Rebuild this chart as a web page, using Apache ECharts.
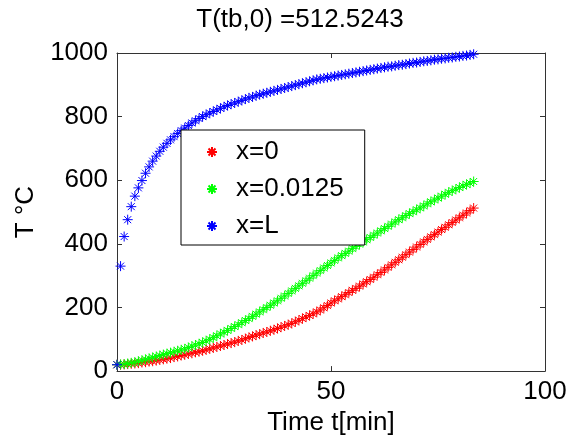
<!DOCTYPE html>
<html>
<head>
<meta charset="utf-8">
<script src="https://cdn.jsdelivr.net/npm/echarts@6/dist/echarts.min.js"></script>
<style>
  html, body { margin: 0; padding: 0; background: #fff; }
  #chart { width: 572px; height: 441px; }
</style>
</head>
<body>
<div id="chart"></div>
<script>
// time in minutes (50 s steps)
const timeMin = [
  0, 0.83, 1.67, 2.5, 3.33, 4.17, 5, 5.83, 6.67, 7.5, 8.33, 9.17,
  10, 10.83, 11.67, 12.5, 13.33, 14.17, 15, 15.83, 16.67, 17.5, 18.33, 19.17,
  20, 20.83, 21.67, 22.5, 23.33, 24.17, 25, 25.83, 26.67, 27.5, 28.33, 29.17,
  30, 30.83, 31.67, 32.5, 33.33, 34.17, 35, 35.83, 36.67, 37.5, 38.33, 39.17,
  40, 40.83, 41.67, 42.5, 43.33, 44.17, 45, 45.83, 46.67, 47.5, 48.33, 49.17,
  50, 50.83, 51.67, 52.5, 53.33, 54.17, 55, 55.83, 56.67, 57.5, 58.33, 59.17,
  60, 60.83, 61.67, 62.5, 63.33, 64.17, 65, 65.83, 66.67, 67.5, 68.33, 69.17,
  70, 70.83, 71.67, 72.5, 73.33, 74.17, 75, 75.83, 76.67, 77.5, 78.33, 79.17,
  80, 80.83, 81.67, 82.5, 83.33
];

// x=0
const tempX0 = [
  20, 20, 21, 22, 23, 24, 25, 27, 28, 30,
  31, 33, 35, 37, 39, 41, 44, 46, 49, 51,
  54, 56, 59, 61, 64, 67, 70, 73, 76, 79,
  82, 85, 88, 91, 95, 98, 102, 106, 109, 113,
  116, 120, 123, 127, 130, 134, 138, 142, 146, 150,
  155, 160, 165, 170, 175, 180, 186, 192, 199, 206,
  214, 221, 227, 234, 240, 247, 254, 260, 267, 274,
  281, 288, 295, 303, 310, 318, 326, 334, 342, 350,
  358, 366, 374, 382, 390, 398, 406, 414, 422, 429,
  437, 445, 452, 460, 467, 475, 482, 490, 497, 505,
  512.5
];

// x=0.0125
const tempXmid = [
  20, 21, 22, 24, 26, 28, 31, 34, 37, 40,
  43, 46, 49, 52, 55, 58, 61, 64, 67, 70,
  74, 78, 82, 86, 90, 95, 100, 105, 111, 117,
  122, 128, 134, 140, 146, 152, 159, 165, 172, 179,
  186, 193, 200, 207, 214, 221, 229, 236, 244, 252,
  260, 268, 276, 284, 292, 300, 308, 316, 324, 332,
  340, 348, 356, 363, 370, 377, 385, 392, 399, 406,
  413, 420, 427, 434, 441, 448, 455, 462, 469, 476,
  482, 489, 495, 501, 507, 513, 519, 526, 532, 538,
  544, 550, 556, 562, 567, 572, 577, 582, 587, 591,
  596
];

// x=L
const tempXL = [
  20, 330, 423, 476, 517, 550, 576, 599, 622, 642,
  660, 676, 691, 704, 716, 727, 737, 747, 756, 764,
  772, 780, 787, 794, 800, 806, 811, 816, 821, 826,
  831, 835, 839, 843, 847, 851, 855, 859, 862, 866,
  869, 872, 875, 878, 881, 884, 887, 890, 893, 896,
  899, 902, 905, 908, 911, 914, 917, 919, 921, 923,
  925, 927, 929, 931, 933, 935, 937, 939, 941, 943,
  945, 947, 949, 951, 953, 955, 957, 958, 960, 962,
  963, 965, 967, 969, 970, 972, 974, 975, 977, 979,
  980, 982, 983, 985, 986, 988, 989, 991, 992, 994,
  996
];

const seriesNames = ["x=0", "x=0.0125", "x=L"];
const seriesColors = ["#ff0000", "#00ff00", "#0000ff"];
const seriesValues = [tempX0, tempXmid, tempXL];

const FONT = "'Liberation Sans', Arial, sans-serif";
const star = "path://M5,0L5,10M0,5L10,5M1.5,1.5L8.5,8.5M1.5,8.5L8.5,1.5";

const chart = echarts.init(document.getElementById("chart"), null, { renderer: "canvas" });

// MATLAB style box: all four sides, ticks pointing in
const boxAxis = (extra) => Object.assign({
  type: "value",
  axisLine: { show: true, onZero: false, lineStyle: { color: "#333", width: 1 } },
  axisTick: { show: true, inside: true, length: 5, lineStyle: { color: "#333" } },
  splitLine: { show: false }
}, extra);

const labelStyle = { fontFamily: FONT, fontSize: 26, color: "#000" };

const option = {
  animation: false,
  backgroundColor: "#fff",
  title: {
    text: "T(tb,0) =512.5243",
    left: 300,
    top: 7,
    textAlign: "center",
    padding: 0,
    textStyle: { fontFamily: FONT, fontSize: 26, fontWeight: "normal", color: "#000" }
  },
  legend: {
    orient: "vertical",
    left: 181,
    top: 130,
    padding: [9, 21, 6, 25],
    itemGap: 11,
    itemWidth: 10,
    itemHeight: 10,
    backgroundColor: "#fff",
    borderColor: "#000",
    borderWidth: 1,
    borderRadius: 0,
    textStyle: { fontFamily: FONT, fontSize: 26, color: "#000", padding: [0, 0, 0, 14] },
    data: seriesNames
  },
  grid: { left: 117, right: 27, top: 53, bottom: 69 },
  xAxis: [
    boxAxis({
      min: 0, max: 100, interval: 50,
      name: "Time t[min]",
      nameLocation: "middle",
      nameGap: 34,
      nameTextStyle: labelStyle,
      axisLabel: Object.assign({ margin: 8 }, labelStyle)
    }),
    boxAxis({
      position: "top",
      min: 0, max: 100, interval: 50,
      axisLabel: { show: false }
    })
  ],
  yAxis: [
    boxAxis({
      min: 0, max: 1000, interval: 200,
      name: "T \u00b0C",
      nameLocation: "middle",
      nameGap: 66,
      nameTextStyle: labelStyle,
      axisLabel: Object.assign({ margin: 9, formatter: v => String(v) }, labelStyle)
    }),
    boxAxis({
      position: "right",
      min: 0, max: 1000, interval: 200,
      axisLabel: { show: false }
    })
  ],
  series: seriesNames.map((name, k) => ({
    name: name,
    type: "scatter",
    xAxisIndex: 0,
    yAxisIndex: 0,
    symbol: star,
    symbolSize: 10,
    itemStyle: { color: seriesColors[k], borderColor: seriesColors[k], borderWidth: 1, opacity: 1 },
    emphasis: { disabled: true },
    data: timeMin.map((t, i) => [t, seriesValues[k][i]])
  }))
};

chart.setOption(option);
</script>
</body>
</html>
